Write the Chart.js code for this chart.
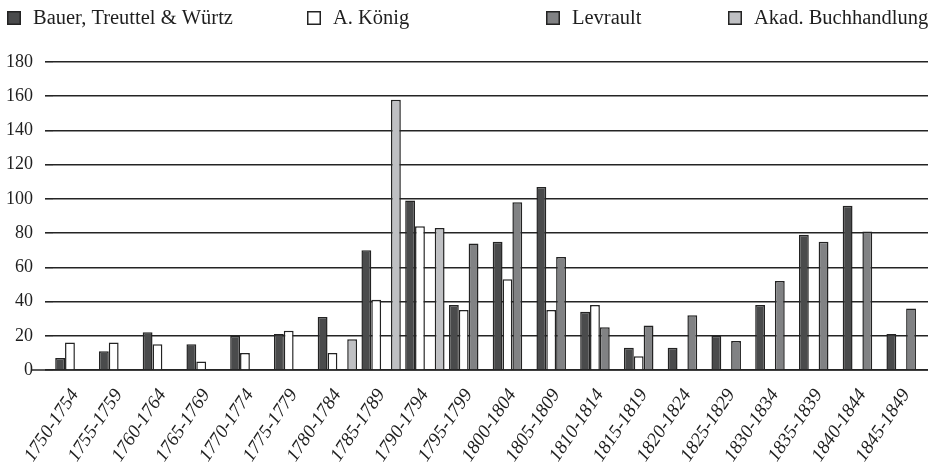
<!DOCTYPE html>
<html>
<head>
<meta charset="utf-8">
<script src="https://cdn.jsdelivr.net/npm/chart.js@4/dist/chart.umd.min.js"></script>
<style>
  html, body { margin: 0; padding: 0; background: #ffffff; }
  #wrap { width: 933px; height: 470px; position: relative; }
</style>
</head>
<body>
<div id="wrap"><canvas id="chart"></canvas></div>
<script>
// Five-year periods
const categories = [
  '1750-1754', '1755-1759', '1760-1764', '1765-1769', '1770-1774',
  '1775-1779', '1780-1784', '1785-1789', '1790-1794', '1795-1799',
  '1800-1804', '1805-1809', '1810-1814', '1815-1819', '1820-1824',
  '1825-1829', '1830-1834', '1835-1839', '1840-1844', '1845-1849'
];

// Titles per publisher and period (null = no titles)
const bauerTreuttelWuertz = [7, 11, 22, 15, 20, 21, 31, 70, 99, 38, 75, 107, 34, 13, 13, 20, 38, 79, 96, 21];
const aKoenig = [16, 16, 15, 5, 10, 23, 10, 41, 84, 35, 53, 35, 38, 8, null, null, null, null, null, null];
const levrault = [null, null, null, null, null, null, null, null, null, 74, 98, 66, 25, 26, 32, 17, 52, 75, 81, 36];
const akadBuchhandlung = [null, null, null, null, null, null, 18, 158, 83, null, null, null, null, null, null, null, null, null, null, null];

const seriesNames = ['Bauer, Treuttel & Würtz', 'A. König', 'Levrault', 'Akad. Buchhandlung'];
const yTicks = [0, 20, 40, 60, 80, 100, 120, 140, 160, 180];

const fills = ['#4a4b4c', '#ffffff', '#818284', '#bfc0c3'];
const edge = '#232323';
const lineColor = '#242424';
const serif = "'Liberation Serif', 'Times New Roman', serif";

// Legend drawn in a single row across the top
const legendLayout = { boxX: [7, 307, 546, 728], boxW: 14, boxH: 14, gap: 12, centerY: 18, fontSize: 20.5 };

const legendRow = {
  id: 'legendRow',
  afterDraw(chart) {
    const ctx = chart.ctx;
    ctx.save();
    ctx.font = legendLayout.fontSize + 'px ' + serif;
    ctx.textBaseline = 'middle';
    ctx.textAlign = 'left';
    chart.data.datasets.forEach((ds, i) => {
      const x = legendLayout.boxX[i];
      const y = legendLayout.centerY - legendLayout.boxH / 2;
      ctx.fillStyle = ds.backgroundColor;
      ctx.fillRect(x, y, legendLayout.boxW, legendLayout.boxH);
      ctx.lineWidth = 1.5;
      ctx.strokeStyle = edge;
      ctx.strokeRect(x + 0.75, y + 0.75, legendLayout.boxW - 1.5, legendLayout.boxH - 1.5);
      ctx.fillStyle = '#1e1e1e';
      ctx.fillText(ds.label, x + legendLayout.boxW + legendLayout.gap, legendLayout.centerY + 1);
    });
    ctx.restore();
  }
};

// Baseline at zero, running under the "0" tick label
const zeroLine = {
  id: 'zeroLine',
  beforeDatasetsDraw(chart) {
    const ctx = chart.ctx;
    const y = chart.scales.y.getPixelForValue(0);
    ctx.save();
    ctx.strokeStyle = lineColor;
    ctx.lineWidth = 1.6;
    ctx.beginPath();
    ctx.moveTo(31, y);
    ctx.lineTo(chart.chartArea.right, y);
    ctx.stroke();
    ctx.restore();
  }
};

const seriesData = [bauerTreuttelWuertz, aKoenig, levrault, akadBuchhandlung];

new Chart(document.getElementById('chart'), {
  type: 'bar',
  data: {
    labels: categories,
    datasets: seriesData.map((d, i) => ({
      label: seriesNames[i],
      data: d,
      backgroundColor: fills[i],
      borderColor: edge,
      borderWidth: 1.5,
      barPercentage: 1,
      categoryPercentage: 0.9
    }))
  },
  options: {
    responsive: true,
    maintainAspectRatio: false,
    animation: false,
    devicePixelRatio: 1,
    layout: { padding: { top: 62, right: 5, left: 0, bottom: 0 } },
    plugins: {
      legend: { display: false },
      tooltip: { enabled: false }
    },
    scales: {
      x: {
        // invisible tick marks give the rotated labels their drop below the axis
        grid: { display: true, drawOnChartArea: false, drawTicks: true, tickLength: 13, color: 'rgba(0,0,0,0)' },
        border: { display: false },
        ticks: {
          autoSkip: false,
          minRotation: 56,
          maxRotation: 56,
          padding: 2,
          color: '#1e1e1e',
          font: { family: serif, size: 19, style: 'italic' }
        },
        afterFit(scale) { scale.height = 100; }
      },
      y: {
        min: 0,
        max: 180,
        afterBuildTicks(scale) { scale.ticks = yTicks.map(v => ({ value: v })); },
        ticks: {
          padding: 12,
          color: '#1e1e1e',
          font: { family: serif, size: 18 }
        },
        grid: { color: lineColor, lineWidth: 1.6, drawTicks: true, tickLength: 8 },
        border: { display: false },
        afterFit(scale) { scale.width = 53; }
      }
    }
  },
  plugins: [zeroLine, legendRow]
});
</script>
</body>
</html>
